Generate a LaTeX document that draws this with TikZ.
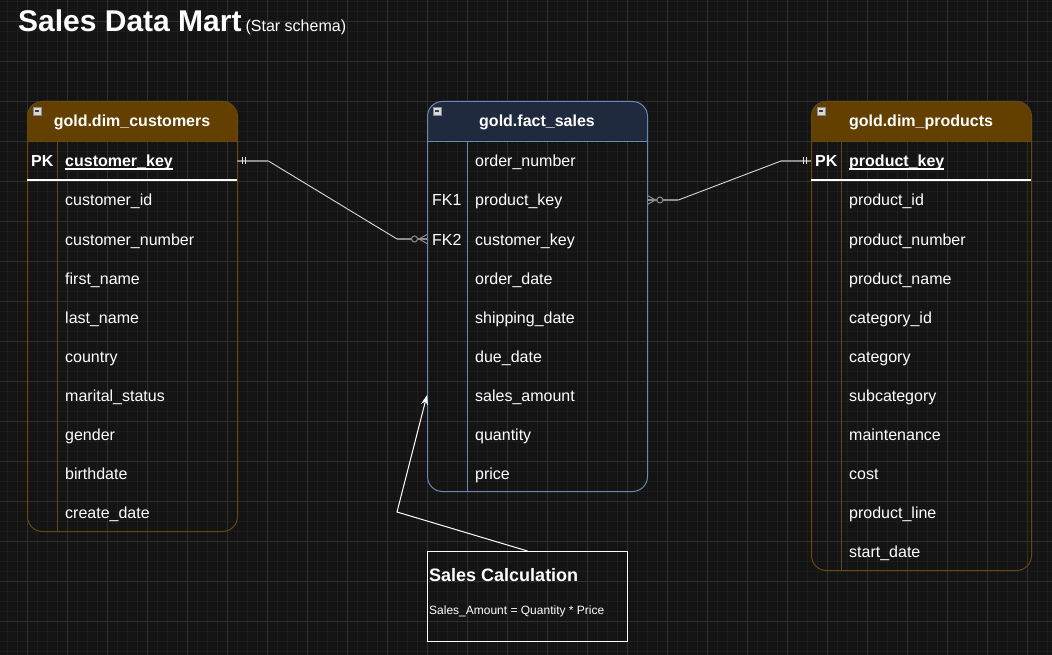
\documentclass[tikz,border=0pt]{standalone}
\usepackage{fontspec}
\setmainfont{Liberation Sans}
\usetikzlibrary{calc,arrows.meta,positioning}

\definecolor{canvas}{HTML}{141414}
\definecolor{gridmin}{HTML}{1D1D1D}
\definecolor{gridmaj}{HTML}{303030}
\definecolor{dimfill}{HTML}{633F00}
\definecolor{dimline}{HTML}{664812}
\definecolor{factfill}{HTML}{1F2A3E}
\definecolor{factline}{HTML}{6C88B0}
\definecolor{relgray}{HTML}{8C8C8C}

\newcommand\cellfont{\fontsize{16}{19}\selectfont}
\newcommand\pkfont{\fontsize{16}{19}\selectfont\bfseries}
\newcommand\pkline[1]{\setbox0\hbox{#1}\rlap{\rule[-2.6pt]{\wd0}{1.3pt}}\box0}

\tikzset{
  tbl/.style={draw=#1, line width=1, rounded corners=15, inner sep=0, anchor=north west},
  hdr/.style={inner sep=0, text height=12, text depth=0, text=white, font=\pkfont},
  field/.style={anchor=west, inner xsep=8, inner ysep=0, minimum height=39, text width=#1,
    align=left, text height=12, text depth=0, text=white, font=\cellfont},
  keycell/.style={field=#1, inner xsep=4},
  rel/.style={draw=black!15, line width=0.9},
  relend/.style={draw=relgray, line width=1.8},
  tick/.style={draw=black!10, line width=1},
}

\begin{document}
\begin{tikzpicture}[x=1pt,y=-1pt]
\useasboundingbox (0,0) rectangle (1052,655);
\fill[canvas] (0,0) rectangle (1052,655);
\foreach \gx in {7,17,...,1047} \draw[gridmin] (\gx,0) -- (\gx,655);
\foreach \gy in {1,11,...,651} \draw[gridmin] (0,\gy) -- (1052,\gy);
\foreach \gx in {27,67,...,1027} \draw[gridmaj] (\gx,0) -- (\gx,655);
\foreach \gy in {21,61,...,621} \draw[gridmaj] (0,\gy) -- (1052,\gy);

\node[anchor=base west, inner sep=0, text=white] (title) at (18,32)
  {\fontsize{30}{34}\selectfont\bfseries Sales Data Mart\hspace{4pt}\fontsize{16}{19}\selectfont\mdseries (Star schema)};

\fill[dimfill] (27,141) [rounded corners=15] -- (27,101) -- (237,101) [sharp corners] -- (237,141) -- cycle;
\node[tbl=dimline, minimum width=210, minimum height=430] (cust) at (27,101) {};
\draw[dimline] (27,141) -- (237,141) (57,141) -- (57,531);
\draw[white, line width=1.3] (27,180) -- (237,180);
\node[hdr] (cust-title) at (132,121) {gold.dim\_customers};
\node[keycell=22pt, font=\pkfont] (cust-pk) at (27,161) {PK};
\node[field=164pt, font=\pkfont] (cust-1) at (57,161) {\pkline{customer\_key}};
\foreach \f [count=\i from 2] in {customer\_id,customer\_number,first\_name,last\_name,country,marital\_status,gender,birthdate,create\_date}
  \node[field=164pt] (cust-\i) at (57,{161+39*(\i-1)}) {\f};

\fill[factfill] (427,141) [rounded corners=15] -- (427,101) -- (647,101) [sharp corners] -- (647,141) -- cycle;
\node[tbl=factline, minimum width=220, minimum height=390] (fact) at (427,101) {};
\draw[factline] (427,141) -- (647,141) (467,141) -- (467,491);
\node[hdr] (fact-title) at (537,121) {gold.fact\_sales};
\node[keycell=30pt, inner xsep=5] (fact-fk1) at (427,200) {FK1};
\node[keycell=30pt, inner xsep=5] (fact-fk2) at (427,239) {FK2};
\foreach \f [count=\i] in {order\_number,product\_key,customer\_key,order\_date,shipping\_date,due\_date,sales\_amount,quantity,price}
  \node[field=164pt] (fact-\i) at (467,{161+39*(\i-1)}) {\f};

\fill[dimfill] (811,141) [rounded corners=15] -- (811,101) -- (1031,101) [sharp corners] -- (1031,141) -- cycle;
\node[tbl=dimline, minimum width=220, minimum height=469] (prod) at (811,101) {};
\draw[dimline] (811,141) -- (1031,141) (841,141) -- (841,570);
\draw[white, line width=1.3] (811,180) -- (1031,180);
\node[hdr] (prod-title) at (921,121) {gold.dim\_products};
\node[keycell=22pt, font=\pkfont] (prod-pk) at (811,161) {PK};
\node[field=174pt, font=\pkfont] (prod-1) at (841,161) {\pkline{product\_key}};
\foreach \f [count=\i from 2] in {product\_id,product\_number,product\_name,category\_id,category,subcategory,maintenance,cost,product\_line,start\_date}
  \node[field=174pt] (prod-\i) at (841,{161+39*(\i-1)}) {\f};

\foreach \hx in {27,427,811} {
  \draw[black!45, fill=black!15] (\hx+6,107) rectangle ++(8,8);
  \draw[black!75, line width=1.3] (\hx+8,111) -- ++(4,0);
}

\draw[rel] (cust-1.east) -- ++(31,0) -- ($(fact-fk2.west)+(-30,0)$) -- (fact-fk2.west);
\draw[relend] (cust-1.east) -- ++(31,0);
\draw[relend] (fact-fk2.west) -- ++(-30,0);
\draw[tick] ([xshift=5]cust-1.east) ++(0,-3.5) -- ++(0,7) ([xshift=8]cust-1.east) ++(0,-3.5) -- ++(0,7);
\draw[relgray, line width=1, fill=canvas] ($(fact-fk2.west)+(-12.5,0)$) circle (3);
\draw[relgray, line width=1] ($(fact-fk2.west)+(-8,0)$) -- ($(fact-fk2.west)+(0,-4.5)$)
  ($(fact-fk2.west)+(-8,0)$) -- ($(fact-fk2.west)+(0,4.5)$);

\draw[rel] (fact-2.east) -- ++(31,0) -- ($(prod-pk.west)+(-30,0)$) -- (prod-pk.west);
\draw[relend] (fact-2.east) -- ++(31,0);
\draw[relend] (prod-pk.west) -- ++(-30,0);
\draw[tick] ([xshift=-5]prod-pk.west) ++(0,-3.5) -- ++(0,7) ([xshift=-8]prod-pk.west) ++(0,-3.5) -- ++(0,7);
\draw[relgray, line width=1, fill=canvas] ($(fact-2.east)+(12.5,0)$) circle (3);
\draw[relgray, line width=1] ($(fact-2.east)+(8,0)$) -- ($(fact-2.east)+(0,-4.5)$)
  ($(fact-2.east)+(8,0)$) -- ($(fact-2.east)+(0,4.5)$);

\node[draw=white, line width=1, minimum width=200, minimum height=90, inner sep=0, anchor=north west] (calc) at (427,551) {};
\node[anchor=base west, inner sep=0, text=white, font=\fontsize{18}{21}\selectfont\bfseries] (calc-title) at (429,581) {Sales Calculation};
\node[anchor=base west, inner sep=0, text=white, font=\fontsize{12}{14}\selectfont] (calc-body) at (429,614) {Sales\_Amount = Quantity * Price};
\draw[white, line width=1, -{Stealth[length=10pt,width=7pt]}] (calc.north) -- (397,512) -- (fact.west |- fact-7.west);
\end{tikzpicture}
\end{document}
